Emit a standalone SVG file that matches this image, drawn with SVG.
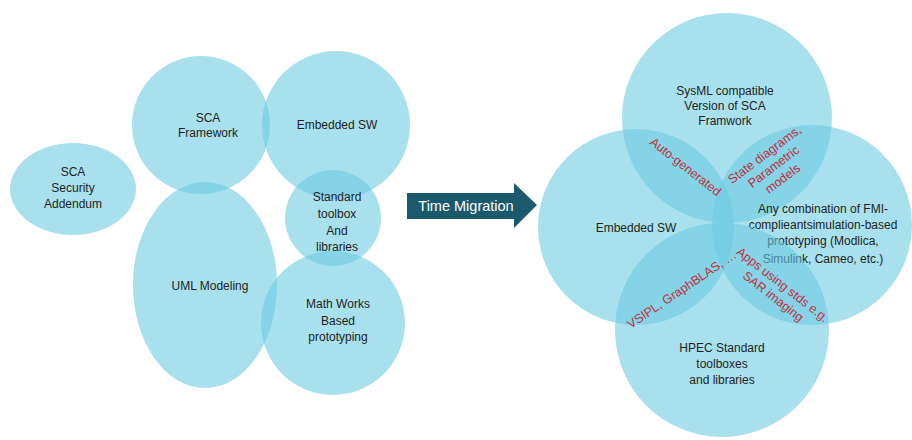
<svg xmlns="http://www.w3.org/2000/svg" width="912" height="440" viewBox="0 0 912 440">
  <style>
    .blob { fill: rgb(106,202,226); fill-opacity: 0.586; }
    .lbl { font-family: "Liberation Sans", Arial, sans-serif; font-size: 12px; fill: #231f20; text-anchor: middle; }
    .red { font-family: "Liberation Sans", Arial, sans-serif; font-size: 12.5px; fill: #c1303a; text-anchor: middle; }
    .arrowtxt { font-family: "Liberation Sans", Arial, sans-serif; font-size: 14.5px; fill: #ffffff; text-anchor: middle; }
  </style>
  <rect width="912" height="440" fill="#ffffff"/>

  <!-- left cluster -->
  <g id="sca-security">
    <ellipse class="blob" cx="73" cy="189" rx="63" ry="46"/>
    <text class="lbl" x="73" y="176">SCA</text>
    <text class="lbl" x="73" y="192">Security</text>
    <text class="lbl" x="73" y="208">Addendum</text>
  </g>
  <g id="sca-framework">
    <circle class="blob" cx="201" cy="125" r="69"/>
    <text class="lbl" x="208" y="122">SCA</text>
    <text class="lbl" x="208" y="137">Framework</text>
  </g>
  <g id="embedded-sw-left">
    <circle class="blob" cx="336" cy="125" r="74"/>
    <text class="lbl" x="337" y="129">Embedded SW</text>
  </g>
  <g id="uml-modeling">
    <ellipse class="blob" cx="205" cy="285" rx="72" ry="103"/>
    <text class="lbl" x="210" y="290">UML Modeling</text>
  </g>
  <g id="standard-toolbox">
    <circle class="blob" cx="333" cy="218" r="48"/>
    <text class="lbl" x="337" y="201">Standard</text>
    <text class="lbl" x="337" y="218">toolbox</text>
    <text class="lbl" x="337" y="235">And</text>
    <text class="lbl" x="337" y="251">libraries</text>
  </g>
  <g id="math-works">
    <circle class="blob" cx="333" cy="323" r="72"/>
    <text class="lbl" x="338" y="308">Math Works</text>
    <text class="lbl" x="338" y="325">Based</text>
    <text class="lbl" x="338" y="341">prototyping</text>
  </g>

  <!-- transition arrow -->
  <g id="connectors">
    <polygon points="407,193 514,193 514,183 537,205 514,228 514,219 407,219" fill="#1b5a6d"/>
    <text class="arrowtxt" x="466" y="211">Time Migration</text>
  </g>

  <!-- right cluster -->
  <g id="sysml">
    <circle class="blob" cx="727" cy="118" r="105"/>
    <text class="lbl" x="725" y="95">SysML compatible</text>
    <text class="lbl" x="725" y="110">Version of SCA</text>
    <text class="lbl" x="725" y="125">Framwork</text>
  </g>
  <g id="embedded-sw-right">
    <circle class="blob" cx="636" cy="227" r="98"/>
    <text class="lbl" x="636" y="232">Embedded SW</text>
  </g>
  <g id="fmi-prototyping">
    <circle class="blob" cx="812" cy="225" r="100"/>
    <text class="lbl" x="823" y="213">Any combination of FMI-</text>
    <text class="lbl" x="823" y="229">complieantsimulation-based</text>
    <text class="lbl" x="823" y="245">prototyping (Modlica,</text>
    <text class="lbl" x="823" y="263">Simulink, Cameo, etc.)</text>
  </g>
  <g id="hpec">
    <circle class="blob" cx="722" cy="330" r="107"/>
    <text class="lbl" x="722" y="352">HPEC Standard</text>
    <text class="lbl" x="722" y="368">toolboxes</text>
    <text class="lbl" x="722" y="384">and libraries</text>
  </g>

  <!-- overlap annotations -->
  <g id="overlap-labels">
    <text class="red" transform="translate(683,170) rotate(38)">Auto-generated</text>
    <g transform="translate(767,158) rotate(-37)">
      <text class="red" x="0" y="0">State diagrams,</text>
      <text class="red" x="0" y="15">Parametric</text>
      <text class="red" x="0" y="30">models</text>
    </g>
    <text class="red" transform="translate(684,293) rotate(-34)">VSIPL, GraphBLAS, …</text>
    <g transform="translate(780,288) rotate(38)">
      <text class="red" x="0" y="0">Apps using stds e.g.</text>
      <text class="red" x="0" y="15">SAR imaging</text>
    </g>
  </g>
</svg>
